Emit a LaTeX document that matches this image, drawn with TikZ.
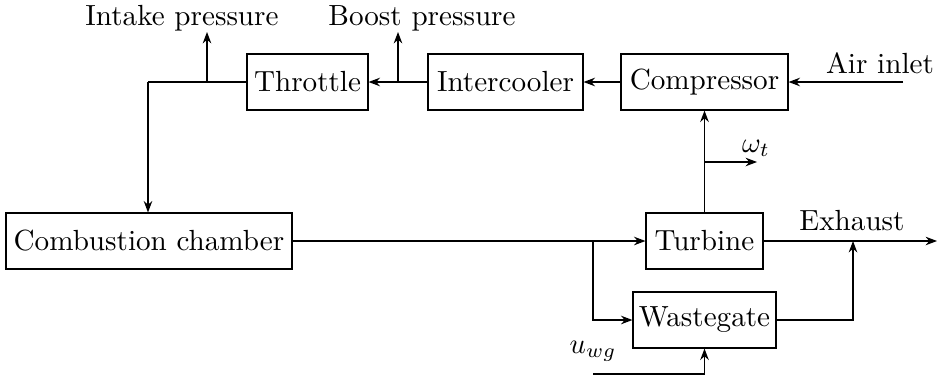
\documentclass[tikz,border=0pt]{standalone}
\usetikzlibrary{arrows.meta}
\begin{document}
\begin{tikzpicture}[x=0.35pt,y=-0.35pt,
  font=\fontsize{10.2}{12}\selectfont,
  blk/.style={draw, line width=0.4pt, minimum height={56*0.35pt}, inner sep=0pt},
  conn/.style={line width=0.4pt},
  arr/.style={line width=0.4pt,-{Stealth[length=4pt,width=3pt]}},
  lbl/.style={inner sep=0pt, anchor=base}]
\useasboundingbox (0,0) rectangle (937,377);
\node[blk, minimum width={121*0.35pt}] (thr) at (307.5,82) {Throttle};
\node[blk, minimum width={155*0.35pt}] (ic) at (505.5,82) {Intercooler};
\node[blk, minimum width={167*0.35pt}] (comp) at (704.5,82) {Compressor};
\node[blk, minimum width={286*0.35pt}] (cc) at (149,241) {Combustion chamber};
\node[blk, minimum width={117*0.35pt}] (turb) at (704.5,241) {Turbine};
\node[blk, minimum width={143*0.35pt}] (wg) at (704.5,320) {Wastegate};

\node[lbl] (intake) at (182,25) {Intake pressure};
\node[lbl] (boost) at (422,25) {Boost pressure};
\node[lbl] (air) at (880,73) {Air inlet};
\node[lbl] (exh) at (852,230) {Exhaust};
\node[lbl] (om) at (756,152) {$\omega_t$};
\node[lbl] (uwg) at (593,353) {$u_{wg}$};

\coordinate (airin) at (903,82);
\coordinate (bst) at (398,82);
\coordinate (bsttop) at (398,32);
\coordinate (ip) at (207,82);
\coordinate (iptop) at (207,32);
\coordinate (corner) at (148,82);
\coordinate (split) at (593,241);
\coordinate (wgin) at (593,320);
\coordinate (omb) at (704.5,162);
\coordinate (ome) at (757,162);
\coordinate (exend) at (937,241);
\coordinate (wgout) at (853,320);
\coordinate (wgjoin) at (853,241);
\coordinate (ustart) at (593,374);
\coordinate (ucorner) at (704.5,374);

\draw[arr] (airin) -- (comp.east);
\draw[arr] (comp.west) -- (ic.east);
\draw[arr] (ic.west) -- (thr.east);
\draw[arr] (bst) -- (bsttop);
\draw[conn] (thr.west) -- (corner);
\draw[arr] (ip) -- (iptop);
\draw[arr] (corner) -- (corner |- cc.north);
\draw[arr] (cc.east) -- (turb.west);
\draw[arr] (split) -- (wgin) -- (wg.west);
\draw[arr] (turb.north) -- (comp.south);
\draw[arr] (omb) -- (ome);
\draw[arr] (turb.east) -- (exend);
\draw[arr] (wg.east) -- (wgout) -- (wgjoin);
\draw[arr] (ustart) -- (ucorner) -- (wg.south);
\end{tikzpicture}
\end{document}
